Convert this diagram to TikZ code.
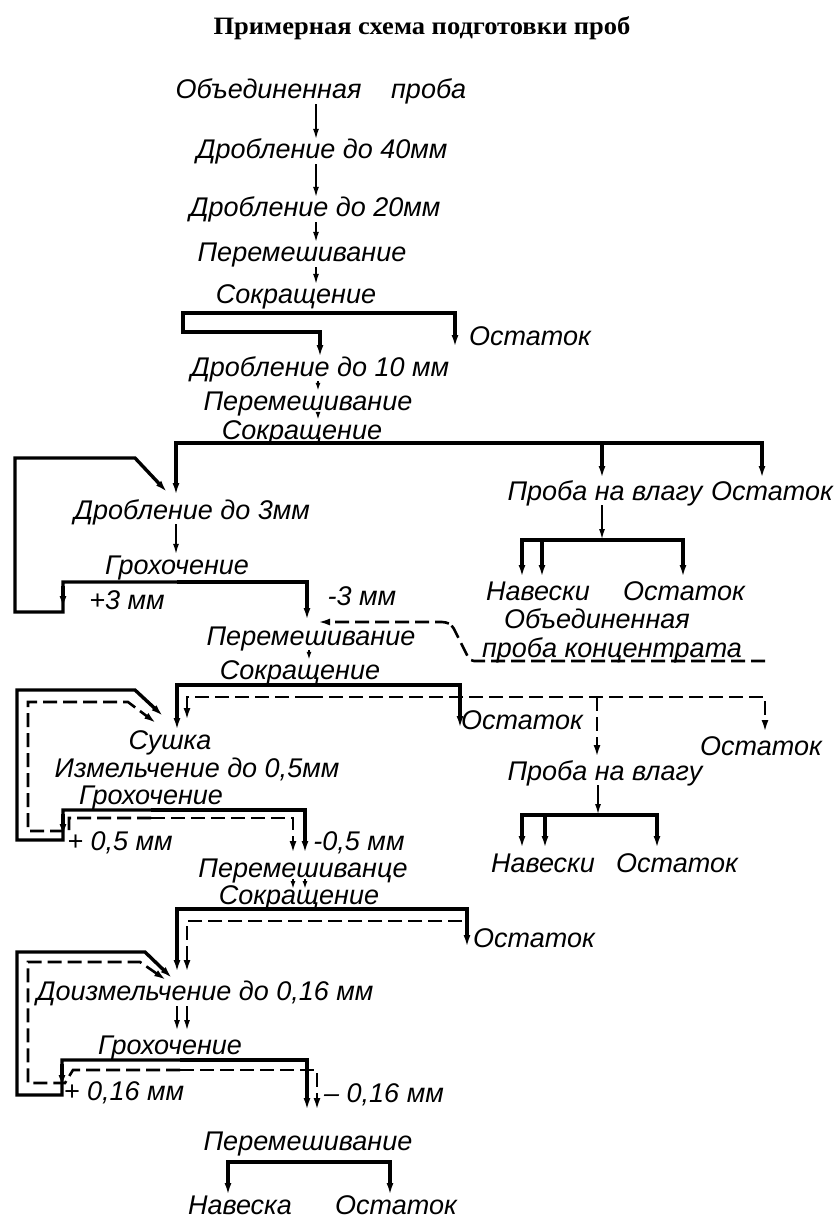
\documentclass[tikz,border=0pt]{standalone}
\usepackage{fontspec}
\usepackage{graphicx}
\setmainfont{Liberation Sans}
\newfontfamily\titlefont{Liberation Serif}
\usetikzlibrary{arrows.meta}
\begin{document}
\begin{tikzpicture}[x=1pt,y=-1pt,
  lbl/.style={font=\fontsize{27}{30}\selectfont\itshape, inner sep=0pt, text height=19pt, text depth=5pt},
  arr/.style={line width=2pt, -{Latex[length=11pt,width=6pt]}},
  sarr/.style={line width=2pt, -{Latex[length=8pt,width=5pt]}},
  busarr/.style={line width=3.4pt, -{Latex[length=12pt,width=7pt]}},
  bus/.style={line width=3.4pt},
  dsharr/.style={line width=2.6pt, dash pattern=on 14pt off 6pt, -{Latex[length=12pt,width=7pt]}},
  dsh/.style={line width=2.6pt, dash pattern=on 14pt off 6pt}
]
\useasboundingbox (0,0) rectangle (837,1222);
% title
\node (title) at (422,28) {\scalebox{1.06}[1]{\fontsize{25}{27}\selectfont\titlefont\bfseries Примерная схема подготовки проб}};

% columns
\coordinate (c316) at (316,0);
\coordinate (c318) at (318,0);
\coordinate (c309) at (309,0);
\coordinate (c176) at (176,0);
\coordinate (c602) at (602,0);
\coordinate (c598) at (598,0);

% ---- top chain
\node[lbl] (n1) at (321,92) {Объединенная\hspace{1.1em}проба};
\node[lbl] (n2) at (322,152) {Дробление до 40мм};
\node[lbl] (n3) at (315,210) {Дробление до 20мм};
\node[lbl] (n4) at (302,255) {Перемешивание};
\node[lbl] (n5) at (296,297) {Сокращение};
\draw[arr] (n1.south -| c316) -- (n2.north -| c316);
\draw[arr] (n2.south -| c316) -- (n3.north -| c316);
\draw[arr] (n3.south -| c316) -- (n4.north -| c316);
\draw[arr] (n4.south -| c316) -- (n5.north -| c316);

\coordinate (b1) at (316,313);
\draw[busarr] (b1) -- (455,313) -- (455,347);
\draw[busarr] (b1) -- (183,313) -- (183,332) -- (320,332) -- (320,357);
\node[lbl] (n6) at (530,338) {Остаток};

\node[lbl] (n7) at (320,369) {Дробление до 10 мм};
\node[lbl] (n8) at (308,403) {Перемешивание};
\node[lbl] (n9) at (302,432) {Сокращение};
\draw[sarr] (n7.south -| c318) -- (n8.north -| c318);
\draw[sarr] (n8.south -| c318) -- (n9.north -| c318);

\coordinate (b2) at (318,443);
\draw[busarr] (b2) -- (176,443) -- (176,495);
\draw[busarr] (b2) -- (762,443) -- (762,478);
\draw[busarr] (602,443) -- (602,478);
\node[lbl] (n10) at (605,493) {Проба на влагу};
\node[lbl] (n11) at (772,493) {Остаток};

% 3 mm
\node[lbl] (n12) at (192,512) {Дробление до 3мм};
\node[lbl] (n13) at (177,567) {Грохочение};
\draw[arr] (n12.south -| c176) -- (n13.north -| c176);
\coordinate (b3) at (177,582);
\draw[busarr] (b3) -- (307,582) -- (307,620);
\draw[busarr] (b3) -- (63,582) -- (63,612) -- (15,612) -- (15,458) -- (135,458) -- (167,492);
\draw[busarr] (63,586) -- (63,608);
\node[lbl] (n14) at (127,602) {+3 мм};
\node[lbl] (n15) at (362,598) {-3 мм};

% moisture sample 1
\draw[arr] (n10.south -| c602) -- (602,540);
\coordinate (b4) at (602,540);
\draw[busarr] (b4) -- (522,540) -- (522,577);
\draw[busarr] (542,540) -- (542,577);
\draw[busarr] (b4) -- (683,540) -- (683,577);
\node[lbl] (n16) at (538,593) {Навески};
\node[lbl] (n17) at (684,593) {Остаток};

% concentrate
\node[lbl] (n18) at (597,621) {Объединенная};
\node[lbl] (n19) at (612,650) {проба концентрата};
\node[lbl] (n20) at (311,638) {Перемешивание};
\coordinate (k1) at (765,661);
\draw[dsharr, rounded corners=4pt] (k1) -- (470,661) -- (452,625) -- (446,622) -- (318,622);

\node[lbl] (n21) at (300,672) {Сокращение};
\draw[sarr] (n20.south -| c309) -- (n21.north -| c309);
\coordinate (b5) at (309,685);
\draw[busarr] (b5) -- (460,685) -- (460,728);
\draw[busarr] (b5) -- (177,685) -- (177,730);
\coordinate (d5) at (309,697);
\draw[dsharr] (d5) -- (765,697) -- (765,732);
\draw[dsharr] (d5) -- (187,697) -- (187,720);
\draw[dsharr] (597,697) -- (597,757);
\node[lbl] (n22) at (522,722) {Остаток};
\node[lbl] (n23) at (761,748) {Остаток};

% 0.5 mm
\node[lbl] (n24) at (170,742) {Сушка};
\node[lbl] (n25) at (197,770) {Измельчение до 0,5мм};
\node[lbl] (n27) at (151,797) {Грохочение};
\coordinate (b6) at (151,810);
\draw[busarr] (b6) -- (305,810) -- (305,853);
\draw[busarr] (b6) -- (63,810) -- (63,840) -- (17,840) -- (17,690) -- (135,690) -- (163,716);
\draw[busarr] (63,814) -- (63,836);
\coordinate (d6) at (151,818);
\draw[dsharr] (d6) -- (293,818) -- (293,853);
\draw[dsharr] (d6) -- (69,818) -- (69,831) -- (28,831) -- (28,702) -- (128,702) -- (156,723);
\node[lbl] (n28) at (120,843) {+ 0,5 мм};
\node[lbl] (n29) at (359,843) {-0,5 мм};

% moisture sample 2
\node[lbl] (n26) at (605,773) {Проба на влагу};
\coordinate (b7) at (598,815);
\draw[arr] (n26.south -| c598) -- (b7);
\draw[busarr] (b7) -- (522,815) -- (522,848);
\draw[busarr] (545,815) -- (545,848);
\draw[busarr] (b7) -- (657,815) -- (657,848);
\node[lbl] (n30) at (543,865) {Навески};
\node[lbl] (n31) at (677,865) {Остаток};

% mixing
\node[lbl] (n32) at (303,870) {Перемешиванце};
\node[lbl] (n33) at (299,897) {Сокращение};
\draw[sarr] (293,879) -- (293,889);
\draw[sarr] (305,879) -- (305,889);
\coordinate (b8) at (300,909);
\draw[busarr] (b8) -- (467,909) -- (467,947);
\draw[busarr] (b8) -- (177,909) -- (177,972);
\draw[dsharr] (462,921) -- (187,921) -- (187,972);
\node[lbl] (n34) at (534,940) {Остаток};

% 0.16 mm
\node[lbl] (n35) at (205,993) {Доизмельчение до 0,16 мм};
\node[lbl] (n36) at (170,1047) {Грохочение};
\draw[arr] (177,1006) -- (177,1031);
\draw[arr] (187,1006) -- (187,1031);
\coordinate (b9) at (180,1060);
\draw[busarr] (b9) -- (307,1060) -- (307,1110);
\draw[busarr] (b9) -- (62,1060) -- (62,1095) -- (17,1095) -- (17,952) -- (145,952) -- (172,978);
\draw[busarr] (62,1064) -- (62,1087);
\coordinate (d9) at (180,1070);
\draw[dsharr] (d9) -- (317,1070) -- (317,1110);
\draw[dsharr] (d9) -- (73,1070) -- (65,1083) -- (28,1083) -- (28,962) -- (140,962) -- (166,980);
\node[lbl] (n37) at (124,1093) {+ 0,16 мм};
\node[lbl] (n38) at (384,1095) {– 0,16 мм};

% final
\node[lbl] (n39) at (308,1143) {Перемешивание};
\coordinate (b10) at (308,1162);
\draw[busarr] (b10) -- (228,1162) -- (228,1195);
\draw[busarr] (b10) -- (390,1162) -- (390,1195);
\node[lbl] (n40) at (240,1207) {Навеска};
\node[lbl] (n41) at (396,1207) {Остаток};
\end{tikzpicture}
\end{document}
